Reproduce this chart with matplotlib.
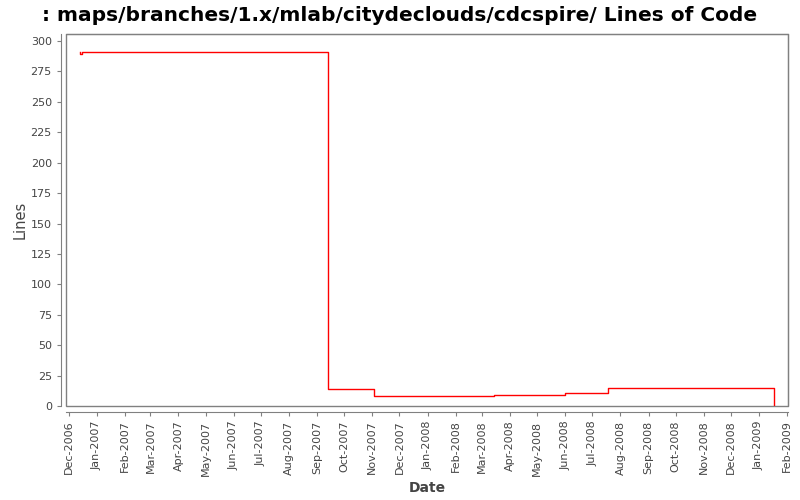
import numpy as np
import matplotlib
matplotlib.use("Agg")
import matplotlib.pyplot as plt
import matplotlib.dates as mdates
from matplotlib.patches import Rectangle
from datetime import datetime

# commit dates and line counts
dates = [
    datetime(2006, 12, 13, 0), datetime(2006, 12, 13, 12), datetime(2006, 12, 16),
    datetime(2007, 9, 13), datetime(2007, 11, 3), datetime(2008, 3, 14),
    datetime(2008, 6, 1), datetime(2008, 7, 18), datetime(2009, 1, 18),
]
lines = [291, 289, 291, 14, 8, 9, 11, 15, 0]

title = ": maps/branches/1.x/mlab/citydeclouds/cdcspire/ Lines of Code"

fig = plt.figure(figsize=(8, 5), dpi=100)
ax = fig.add_axes([0.083, 0.188, 0.902, 0.745])

ax.step(dates, lines, where="post", color="red", linewidth=1)

ax.set_xlim(datetime(2006, 11, 28, 6), datetime(2009, 2, 2))
ax.set_ylim(0, 306.2)

grey = "#808080"
for side in ["top", "right"]:
    ax.spines[side].set_color(grey)
for side in ["left", "bottom"]:
    ax.spines[side].set_color(grey)
    ax.spines[side].set_position(("outward", 4))
ax.add_patch(Rectangle((0, 0), 1, 1, transform=ax.transAxes, fill=False,
                       edgecolor=grey, linewidth=1, clip_on=False))

ax.set_yticks(np.arange(0, 301, 25))
ax.xaxis.set_major_locator(mdates.MonthLocator())
ax.xaxis.set_major_formatter(mdates.DateFormatter("%b-%Y"))
ax.tick_params(axis="x", rotation=90)
ax.tick_params(colors=grey, labelcolor="#444444", labelsize=8, length=3)

ax.set_xlabel("Date", fontsize=10, fontweight="bold", color="#444444")
ax.set_ylabel("Lines", fontsize=10.5, color="#444444", labelpad=2)
fig.suptitle(title, fontsize=14.5, fontweight="bold", y=0.988)

fig.savefig("out.png", dpi=100)
